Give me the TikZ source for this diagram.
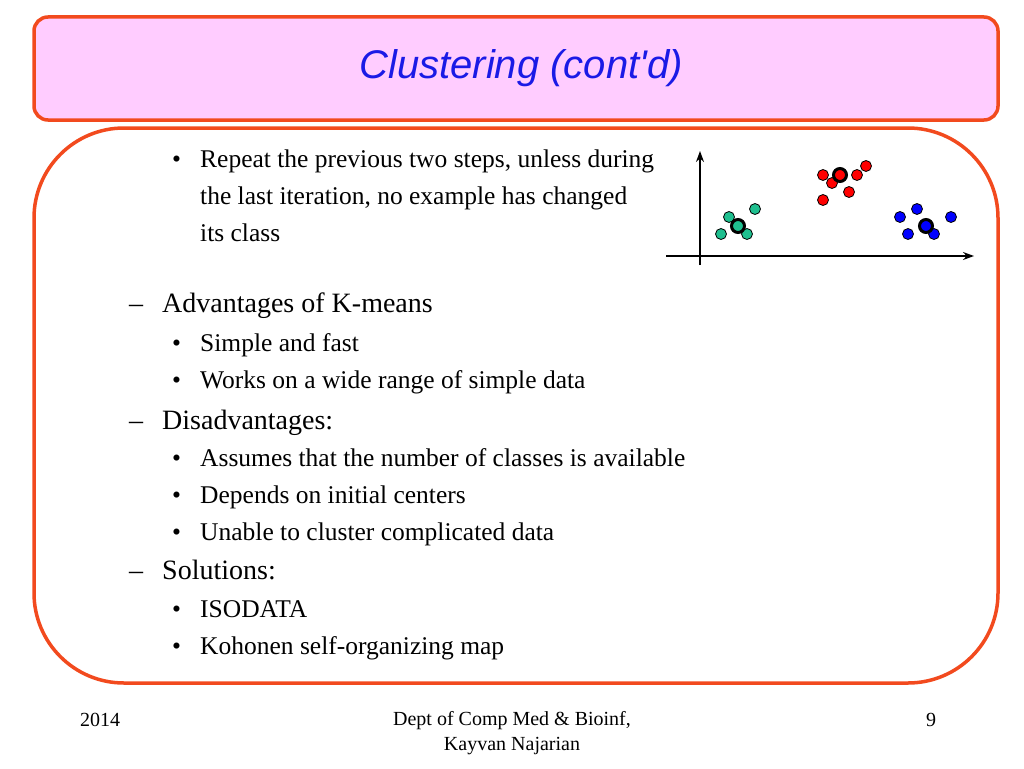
\documentclass[tikz,border=0pt]{standalone}
\usepackage{fontspec}
\setmainfont{Liberation Serif}
\newfontfamily\arialf{Liberation Sans}
\usetikzlibrary{arrows.meta}
\definecolor{frame}{HTML}{F24A1E}
\definecolor{pinkf}{HTML}{FFCCFF}
\definecolor{titleblue}{HTML}{1A1AE6}
\definecolor{gr}{HTML}{1FBF8F}
\tikzset{
 l1/.style={anchor=west,font=\fontsize{25.5}{30}\selectfont,inner sep=0pt,text height=17pt,text depth=5pt},
 l2/.style={anchor=west,font=\fontsize{28}{32}\selectfont,inner sep=0pt,text height=19pt,text depth=6pt},
 ft/.style={font=\fontsize{20}{24}\selectfont,align=center},
 pt/.style={circle,draw=black,line width=0.8pt,inner sep=0pt,minimum size=11pt},
 ctr/.style={circle,draw=black,line width=3pt,inner sep=0pt,minimum size=13pt},
 ax/.style={line width=1.3pt,-{Stealth[length=11pt,width=8pt]}}
}
\begin{document}
\begin{tikzpicture}[x=1pt,y=-1pt]
\useasboundingbox (0,0) rectangle (1024,768);
\draw[frame,line width=3.5pt,fill=pinkf,rounded corners=14pt] (34,17) rectangle (998,120);
\node[font=\arialf\itshape\fontsize{40}{44}\selectfont,text=titleblue] (title) at (521,68) {Clustering (cont'd)};
\draw[frame,line width=3.5pt,rounded corners=90pt] (34,128) rectangle (998,683);
\foreach \y/\t in {161/{Repeat the previous two steps, unless during},345/{Simple and fast},382/{Works on a wide range of simple data},460/{Assumes that the number of classes is available},497/{Depends on initial centers},534/{Unable to cluster complicated data},611/{ISODATA},648/{Kohonen self-organizing map}}{
 \node[l1] at (172,\y) {\textbullet};
 \node[l1] at (200,\y) {\t};}
\node[l1] (c1) at (200,198) {the last iteration, no example has changed};
\node[l1] (c2) at (200,235) {its class};
\foreach \y/\t in {306/{Advantages of K-means},423/{Disadvantages:},573/{Solutions:}}{
 \node[l2] at (129,\y) {--};
 \node[l2] at (162,\y) {\t};}
% axes
\coordinate (yb) at (700,265); \coordinate (yt) at (700,151);
\coordinate (xl) at (666,256); \coordinate (xr) at (974,256);
\draw[ax] (yb) -- (yt);
\draw[ax] (xl) -- (xr);
\foreach \x/\y in {729/217,755/209,721/234,747/234}{\node[pt,fill=gr] at (\x,\y) {};}
\node[ctr,fill=gr] at (738,226) {};
\foreach \x/\y in {823/175,857/175,866/166,832/183,849/192,823/200}{\node[pt,fill=red] at (\x,\y) {};}
\node[ctr,fill=red] at (840,175) {};
\foreach \x/\y in {900/217,917/209,951/217,908/234,934/234}{\node[pt,fill=blue] at (\x,\y) {};}
\node[ctr,fill=blue] at (926,226) {};
\node[ft] (yr) at (100,720) {2014};
\node[ft] (dep) at (512,733) {Dept of Comp Med \& Bioinf,\\[1pt]Kayvan Najarian};
\node[ft] (pg) at (931,720) {9};
\end{tikzpicture}
\end{document}
